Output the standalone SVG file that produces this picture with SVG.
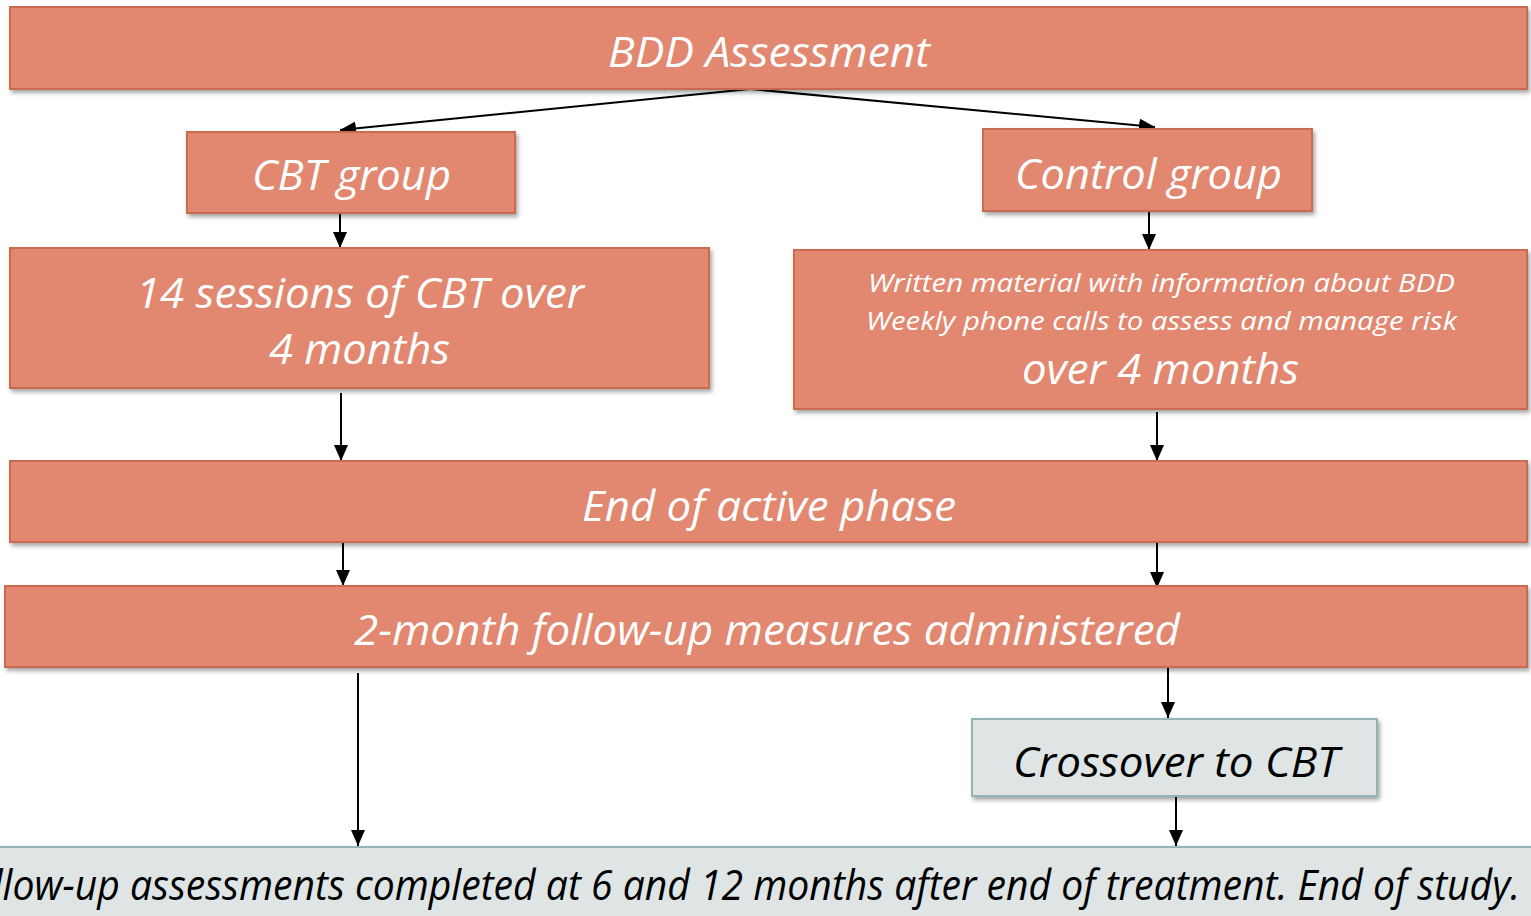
<svg xmlns="http://www.w3.org/2000/svg" width="1531" height="916" viewBox="0 0 1531 916">
  <style>
    .box { fill: #E2886F; stroke: #C96B51; stroke-width: 2; filter: url(#shadow); }
    .pale { fill: #DEE5E4; stroke: #93B4B7; stroke-width: 2; filter: url(#shadow); }
    .t { font-family: "Open Sans", "Noto Sans", sans-serif; font-style: italic; text-anchor: middle; fill: #FFFFFF; }
    .big { font-size: 42px; }
    .small { font-size: 25px; }
    .dark { fill: #000000; }
    .conn { stroke: #000000; stroke-width: 2; fill: none; marker-end: url(#arrow); }
  </style>
  <defs>
    <filter id="shadow" x="-5%" y="-20%" width="110%" height="150%">
      <feDropShadow dx="2" dy="3" stdDeviation="2" flood-color="#000000" flood-opacity="0.35"/>
    </filter>
    <marker id="arrow" markerUnits="userSpaceOnUse" markerWidth="16" markerHeight="14" viewBox="0 0 16 14" refX="16" refY="7" orient="auto">
      <path d="M0,0 L16,7 L0,14 Z" fill="#000000"/>
    </marker>
  </defs>

  <rect width="1531" height="916" fill="#FFFFFF"/>

  <g id="connectors">
    <line class="conn" x1="750" y1="89" x2="340" y2="130"/>
    <line class="conn" x1="750" y1="89" x2="1155" y2="127"/>
    <line class="conn" x1="340" y1="214" x2="340" y2="248"/>
    <line class="conn" x1="1149" y1="212" x2="1149" y2="250"/>
    <line class="conn" x1="341" y1="393" x2="341" y2="461"/>
    <line class="conn" x1="1157" y1="412" x2="1157" y2="461"/>
    <line class="conn" x1="343" y1="543" x2="343" y2="586"/>
    <line class="conn" x1="1157" y1="543" x2="1157" y2="588"/>
    <line class="conn" x1="358" y1="673" x2="358" y2="846"/>
    <line class="conn" x1="1168" y1="668" x2="1168" y2="718"/>
    <line class="conn" x1="1176" y1="797" x2="1176" y2="846"/>
  </g>

  <g id="assessment">
    <rect class="box" x="10" y="7" width="1517" height="82"/>
    <text class="t big" x="769" y="67" textLength="322" lengthAdjust="spacingAndGlyphs">BDD Assessment</text>
  </g>

  <g id="cbt-group">
    <rect class="box" x="187" y="132" width="328" height="81"/>
    <text class="t big" x="351.5" y="190" textLength="199" lengthAdjust="spacingAndGlyphs">CBT group</text>
  </g>

  <g id="control-group">
    <rect class="box" x="983" y="129" width="329" height="82"/>
    <text class="t big" x="1148.5" y="189" textLength="267" lengthAdjust="spacingAndGlyphs">Control group</text>
  </g>

  <g id="cbt-sessions">
    <rect class="box" x="10" y="248" width="699" height="140"/>
    <text class="t big" x="360" y="308" textLength="448" lengthAdjust="spacingAndGlyphs">14 sessions of CBT over</text>
    <text class="t big" x="359.5" y="364" textLength="181" lengthAdjust="spacingAndGlyphs">4 months</text>
  </g>

  <g id="control-care">
    <rect class="box" x="794" y="250" width="733" height="159"/>
    <text class="t small" x="1161.5" y="292" textLength="587" lengthAdjust="spacingAndGlyphs">Written material with information about BDD</text>
    <text class="t small" x="1161.5" y="330" textLength="591" lengthAdjust="spacingAndGlyphs">Weekly phone calls to assess and manage risk</text>
    <text class="t big" x="1160.5" y="384" textLength="277" lengthAdjust="spacingAndGlyphs">over 4 months</text>
  </g>

  <g id="end-active">
    <rect class="box" x="10" y="461" width="1517" height="81"/>
    <text class="t big" x="769" y="521" textLength="374" lengthAdjust="spacingAndGlyphs">End of active phase</text>
  </g>

  <g id="two-month">
    <rect class="box" x="5" y="586" width="1522" height="81"/>
    <text class="t big" x="767" y="645" textLength="826" lengthAdjust="spacingAndGlyphs">2-month follow-up measures administered</text>
  </g>

  <g id="crossover">
    <rect class="pale" x="972" y="719" width="405" height="77"/>
    <text class="t big dark" x="1176" y="777" textLength="326" lengthAdjust="spacingAndGlyphs">Crossover to CBT</text>
  </g>

  <g id="follow-up">
    <rect class="pale" x="-10" y="847" width="1560" height="90"/>
    <text class="t big dark" x="1520" y="900" style="text-anchor:end" textLength="1568" lengthAdjust="spacingAndGlyphs">Follow-up assessments completed at 6 and 12 months after end of treatment. End of study.</text>
  </g>
</svg>
